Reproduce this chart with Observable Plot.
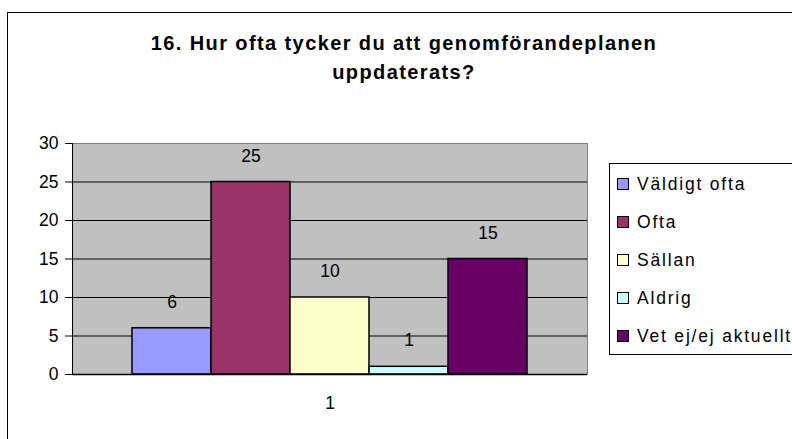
<!DOCTYPE html>
<html><head><meta charset="utf-8">
<script src="https://cdn.jsdelivr.net/npm/d3@7"></script>
<script src="https://cdn.jsdelivr.net/npm/@observablehq/plot@0.6"></script>
<style>
body{margin:0;background:#fff;font-family:"Liberation Sans",Arial,sans-serif;}
#wrap{position:relative;width:792px;height:439px;overflow:hidden;}
#border{position:absolute;left:7px;top:12px;width:820px;height:460px;border-left:1px solid #000;border-top:1px solid #000;}
#title{position:absolute;left:0;top:29px;width:808px;text-align:center;font-weight:bold;font-size:20px;line-height:29px;letter-spacing:1.4px;color:#000;}
#chart{position:absolute;left:0;top:0;}
#legend{position:absolute;left:609px;top:163px;width:200px;height:190px;border:1px solid #000;background:#fff;}
.item{position:absolute;left:7px;height:20px;display:flex;align-items:center;font-size:17.5px;letter-spacing:1.8px;color:#000;white-space:nowrap;}
.sw{width:10px;height:10px;border:1px solid #000;margin-right:8px;flex:none;}
</style></head><body>
<div id="wrap">
  <div id="border"></div>
  <div id="title"></div>
  <div id="chart"></div>
  <div id="legend"></div>
</div>
<script>
const titleLines = ["16. Hur ofta tycker du att genomförandeplanen", "uppdaterats?"];
const category = "1";
const series = ["Väldigt ofta", "Ofta", "Sällan", "Aldrig", "Vet ej/ej aktuellt"];
const values = [6, 25, 10, 1, 15];
const colors = ["#9999FF", "#993366", "#FFFFCC", "#CCFFFF", "#660066"];
const yTicks = [0, 5, 10, 15, 20, 25, 30];
const gridTicks = [5, 10, 15, 20, 25];

const data = series.map((s, i) => ({series: s, value: values[i]}));

document.getElementById("title").innerHTML = titleLines.map(t => `<div>${t}</div>`).join("");

const chart = Plot.plot({
  width: 792,
  height: 439,
  marginLeft: 72,
  marginRight: 205,
  marginTop: 143,
  marginBottom: 65,
  style: {fontFamily: '"Liberation Sans", Arial, sans-serif', fontSize: "17.5px", color: "#000", background: "transparent", overflow: "visible"},
  x: {type: "band", domain: series, paddingInner: 0, paddingOuter: 0.737, axis: null},
  y: {domain: [0, 30], axis: null},
  color: {domain: series, range: colors},
  marks: [
    Plot.frame({fill: "#C0C0C0", stroke: "#808080"}),
    Plot.gridY(gridTicks, {stroke: "#000", strokeOpacity: 1}),
    Plot.barY(data, {x: "series", y: "value", fill: "series", stroke: "#000", strokeWidth: 1.5}),
    Plot.text(data, {x: "series", y: "value", text: d => String(d.value), dy: -26, fontSize: 17.5, fill: "#000", style: {letterSpacing: "2.5px"}}),
    Plot.ruleY([0], {stroke: "#000", strokeWidth: 1.5}),
    Plot.frame({anchor: "left", stroke: "#000"}),
    Plot.axisY({ticks: yTicks, tickSize: 7, tickPadding: 7, fontSize: 17.5, label: null, stroke: "#000"}),
    Plot.text([category], {frameAnchor: "bottom", dy: 34, fontSize: 17.5, fill: "#000"})
  ]
});
document.getElementById("chart").appendChild(chart);

const legend = document.getElementById("legend");
const itemY = [20, 58, 96, 134, 172];
series.forEach((s, i) => {
  const d = document.createElement("div");
  d.className = "item";
  d.style.top = (itemY[i] - 10) + "px";
  d.innerHTML = `<span class="sw" style="background:${colors[i]}"></span><span>${s}</span>`;
  legend.appendChild(d);
});
</script>
</body></html>
